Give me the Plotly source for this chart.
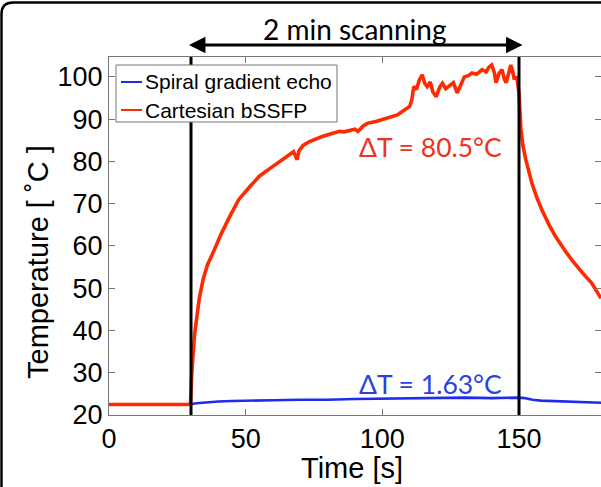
import plotly.graph_objects as go

# ---- data ----
t_spiral = [0, 10, 20, 29.8, 30.3, 32, 35, 40, 45, 50, 55, 60, 70, 80, 90, 100, 110, 120,
            130, 140, 145, 150, 152, 155, 158, 162, 166, 170, 175, 180]
T_spiral = [22.5, 22.5, 22.5, 22.5, 22.6, 22.8, 23.0, 23.2, 23.3, 23.4, 23.5, 23.5, 23.6, 23.6,
            23.8, 23.9, 24.0, 24.0, 24.1, 24.0, 24.1, 24.1, 24.0, 23.6, 23.4, 23.3, 23.2, 23.1,
            23.0, 22.9]

t_cart = [0, 10, 20, 29.8, 30.3, 30.8, 31.3, 32, 33, 34.4,
          36, 38, 41, 44.2, 47.5, 51.5, 55, 58.8, 62, 66,
          67.5, 68.3, 68.8, 69.5, 71, 73.4, 76, 78, 80.7, 83,
          84.3, 86, 88, 90, 91.1, 92, 93, 94.5, 96.4, 98,
          100, 102, 104, 105.5, 107.3, 108.5, 110, 110.8, 111.5, 112.5,
          113.5, 114.6, 115.5, 116.4, 117.5, 118.5, 119.7, 121, 122, 123.2,
          124.5, 126, 127.4, 128.7, 130, 131.5, 132.8, 134.5, 136.5, 138,
          139, 140, 141, 141.6, 142.7, 143.8, 144.6, 145.3, 146.2, 147,
          147.6, 148.2, 149.2, 150, 150.7, 151.5, 152.5, 153.5, 154.7, 156.5,
          158.4, 161, 163.5, 166.5, 169.3, 173, 176.6, 180]
T_cart = [22.5, 22.5, 22.5, 22.5, 30, 35.5, 39, 42.5, 47.5, 52,
          55.5, 58.3, 62.8, 67, 71.0, 74.0, 76.5, 78.3, 79.8, 81.6,
          82.3, 81.2, 80.4, 82.5, 83.8, 84.7, 85.4, 85.9, 86.4, 86.8,
          87.1, 87.0, 87.4, 87.6, 87.1, 87.8, 88.4, 89.0, 89.2, 89.5,
          89.9, 90.3, 90.8, 91.0, 91.8, 92.3, 93.0, 94.6, 97.7, 97.0,
          99.2, 100.5, 98.5, 97.7, 98.8, 96.4, 95.3, 97.6, 98.5, 97.2,
          97.9, 98.6, 96.2, 98.2, 100, 100.3, 100.9, 100.6, 101.7, 101.2,
          102.3, 102.8, 101.0, 98.6, 100.8, 101.7, 99.5, 98.6, 101.2, 102.8,
          101.5, 99.7, 99.8, 96.2, 87.5, 83.5, 80.4, 77.5, 74.9, 71.5,
          68.5, 65.0, 62.1, 59.2, 56.7, 53.8, 51.2, 47.6]

series_names = ["Spiral gradient echo", "Cartesian bSSFP"]
scan_start, scan_end = 30, 150
dT_spiral_label = "ΔT = 1.63°C"
dT_cart_label = "ΔT = 80.5°C"
x_ticks = [0, 50, 100, 150]
y_ticks = [20, 30, 40, 50, 60, 70, 80, 90, 100]

BLUE = "#1e2cf0"
RED = "#ff2a00"
W, H = 601, 487
ML, MR, MT, MB = 109, 0, 57, 72
PW, PH = W - ML - MR, H - MT - MB


def px(x):
    return (x - ML) / PW


def py(y):
    return (H - MB - y) / PH


fig = go.Figure()
fig.add_trace(go.Scatter(x=t_spiral, y=T_spiral, mode="lines", name=series_names[0],
                         line=dict(color=BLUE, width=2.6)))
fig.add_trace(go.Scatter(x=t_cart, y=T_cart, mode="lines", name=series_names[1],
                         line=dict(color=RED, width=3.6)))

for xv in (scan_start, scan_end):
    fig.add_shape(type="line", xref="x", yref="paper", x0=xv, x1=xv, y0=0, y1=1,
                  line=dict(color="black", width=3))

# outer rounded frame (top and left visible)
fig.add_shape(type="path", xref="paper", yref="paper",
              path=f"M {px(1.5)},{py(487)} L {px(1.5)},{py(14)} Q {px(1.5)},{py(2.5)} {px(13)},{py(2.5)} L {px(601)},{py(2.5)}",
              line=dict(color="black", width=2.5))

# custom legend (box, line samples, labels)
fig.add_shape(type="rect", xref="paper", yref="paper", x0=px(116), x1=px(337), y0=py(122), y1=py(65),
              line=dict(color="#777777", width=1), fillcolor="white", layer="above")
for i, (nm, col) in enumerate(zip(series_names, [BLUE, RED])):
    yy = py(82 + 28 * i)
    fig.add_shape(type="line", xref="paper", yref="paper", x0=px(121), x1=px(142), y0=yy, y1=yy,
                  line=dict(color=col, width=2), layer="above")
    fig.add_annotation(x=px(143), y=yy, xref="paper", yref="paper", text=nm, showarrow=False,
                       xanchor="left", yanchor="middle",
                       font=dict(family="Liberation Sans", size=21, color="black"))

# double arrow
fig.add_annotation(x=scan_end + 1.3, y=py(45), xref="x", yref="paper", ax=-(scan_end - scan_start + 2.6) * PW / 180,
                   ay=0, axref="pixel", ayref="pixel", text="", showarrow=True,
                   arrowhead=2, startarrowhead=2, arrowside="end+start", arrowsize=1.1,
                   startarrowsize=1.1, arrowwidth=3, arrowcolor="black")
fig.add_annotation(x=(scan_start + scan_end) / 2, y=py(29), xref="x", yref="paper",
                   xanchor="center", yanchor="middle",
                   text="2 min scanning", showarrow=False,
                   font=dict(family="Lato", size=28, color="black"))
fig.add_annotation(x=117.5, y=83.4, xref="x", yref="y", text=dT_cart_label, showarrow=False,
                   xanchor="center", yanchor="middle",
                   font=dict(family="Lato", size=26.5, color="#ee3322"))
fig.add_annotation(x=117.5, y=27.4, xref="x", yref="y", text=dT_spiral_label, showarrow=False,
                   xanchor="center", yanchor="middle",
                   font=dict(family="Lato", size=26.5, color="#2b3fe6"))

# axis titles
fig.add_annotation(x=px(38), y=py(262), xref="paper", yref="paper", text="Temperature [ ˚C ]",
                   textangle=-90, showarrow=False, xanchor="center", yanchor="middle",
                   font=dict(family="Liberation Sans", size=29, color="black"))
fig.add_annotation(x=px(352), y=py(468), xref="paper", yref="paper", text="Time [s]",
                   showarrow=False, xanchor="center", yanchor="middle",
                   font=dict(family="Liberation Sans", size=29, color="black"))

axis_common = dict(showgrid=False, zeroline=False, showline=True, linecolor="#777777",
                   linewidth=1, mirror="allticks", ticks="inside", ticklen=6, tickcolor="#777777",
                   tickfont=dict(family="Liberation Sans", size=27, color="black"))
fig.update_xaxes(range=[0, 180], tickvals=x_ticks, **axis_common)
fig.update_yaxes(range=[20, 104.7], tickvals=y_ticks, **axis_common)

fig.update_layout(
    width=W, height=H, margin=dict(l=ML, r=MR, t=MT, b=MB),
    paper_bgcolor="white", plot_bgcolor="white", showlegend=False,
)
fig.write_html("out.html", config={"displayModeBar": False},
               post_script="document.body.style.margin='0px';")
